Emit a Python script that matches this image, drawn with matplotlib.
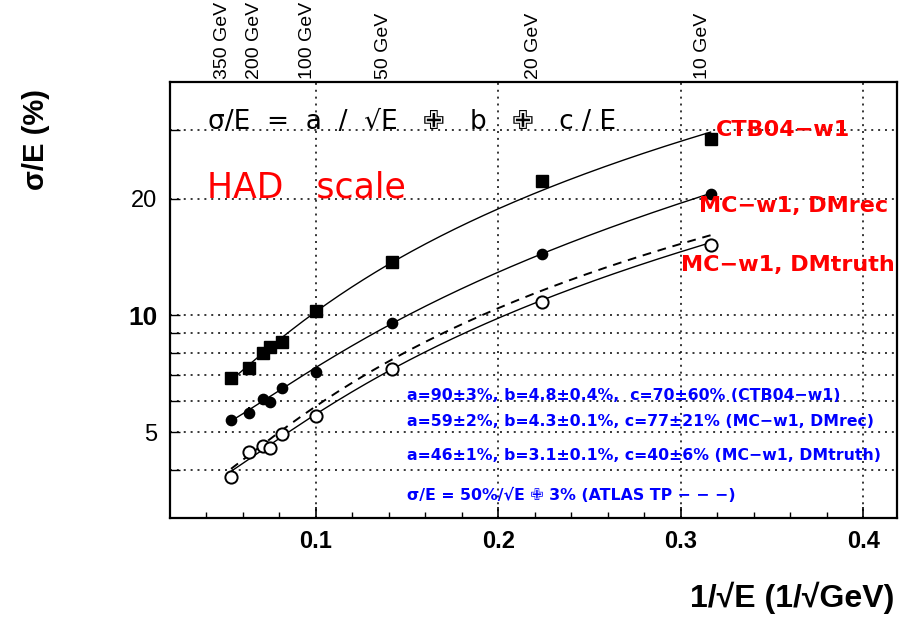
import numpy as np
import matplotlib
matplotlib.use('Agg')
import matplotlib.pyplot as plt

# beam energies (GeV) of the measured points
energies = [350, 250, 200, 180, 150, 100, 50, 20, 10]

# relative energy resolution sigma/E (%)
ctb_res     = [6.89, 7.31, 7.99, 8.30, 8.55, 10.28, 13.69, 22.2, 28.5]
ctb_err     = [0.05, 0.05, 0.05, 0.05, 0.05, 0.05, 0.1, 0.5, 0.8]
dmrec_res   = [5.38, 5.60, 6.09, 5.99, 6.51, 7.16, 9.57, 14.4, 20.6]
dmrec_err   = [0.0, 0.2, 0.0, 0.0, 0.0, 0.0, 0.0, 0.0, 0.0]
dmtruth_res = [3.83, 4.44, 4.59, 4.54, 4.95, 5.50, 7.29, 10.8, 15.2]

# fit parameters: sigma/E = a/sqrt(E) (+) b (+) c/E, in %
fit_names = ['CTB04-w1', 'DMrec', 'DMtruth', 'ATLAS TP']
fit_a = [90, 59, 46, 50]
fit_b = [4.8, 4.3, 3.1, 3.0]
fit_c = [70, 77, 40, 0]

top_energies = [350, 200, 100, 50, 20, 10]
y_grid = [4, 5, 6, 7, 8, 9, 10, 20, 30]
y_labels = {5: '5', 10: '10', 20: '20'}

BLUE = '#0000ff'
RED = '#ff0000'


def resolution(x, a, b, c):
    """Quadrature sum a*x (+) b (+) c*x^2 with x = 1/sqrt(E)."""
    return np.sqrt((a * x) ** 2 + b ** 2 + (c * x * x) ** 2)


def px(x, y):
    """Figure fraction from pixel position (origin top-left)."""
    return x / 900.0, 1.0 - y / 617.0


fig = plt.figure(figsize=(9.0, 6.17), dpi=100)
ax = fig.add_axes([170 / 900, 1 - 518 / 617, 727 / 900, 436 / 617])

ax.set_yscale('log')
ax.set_xlim(0.02, 0.4184)
ax.set_ylim(3.0, 40.0)

x_pts = 1.0 / np.sqrt(np.array(energies, dtype=float))

# fitted curves
x_fit = np.linspace(1 / np.sqrt(350), 1 / np.sqrt(10), 200)
for i, name in enumerate(fit_names):
    style = dict(color='black', lw=1.0)
    if name == 'ATLAS TP':
        style = dict(color='black', lw=1.4, ls=(0, (4.5, 3.5)))
    ax.plot(x_fit, resolution(x_fit, fit_a[i], fit_b[i], fit_c[i]), **style)

# measured points
ax.errorbar(x_pts, ctb_res, yerr=ctb_err, fmt='s', ms=8.6, color='black',
            mfc='black', mec='black', elinewidth=1.5, capsize=0, zorder=5)
ax.errorbar(x_pts, dmrec_res, yerr=dmrec_err, fmt='o', ms=7.4, color='black',
            mfc='black', mec='black', elinewidth=1.5, capsize=0, zorder=5)
ax.plot(x_pts, dmtruth_res, 'o', ms=8.8, mfc='white', mec='black', mew=1.4, zorder=5)

# axes styling
ax.set_xticks([0.1, 0.2, 0.3, 0.4])
ax.set_xticklabels(['0.1', '0.2', '0.3', '0.4'])
ax.set_xticks(np.arange(0.04, 0.42, 0.02), minor=True)
ax.set_yticks(y_grid)
ax.set_yticklabels([y_labels.get(v, '') for v in y_grid])
ax.yaxis.set_minor_locator(matplotlib.ticker.NullLocator())
ax.tick_params(axis='x', which='major', direction='in', length=8, width=1.2,
               pad=9, labelsize=17)
ax.tick_params(axis='x', which='minor', direction='in', length=4.5, width=1.0)
ax.tick_params(axis='y', which='major', direction='in', length=7, width=1.0,
               pad=9, labelsize=17)
for lab in ax.get_xticklabels():
    lab.set_fontfamily(['Liberation Sans', 'DejaVu Sans'])
    lab.set_fontweight('bold')
for lab in ax.get_yticklabels():
    lab.set_fontfamily(['Liberation Sans', 'DejaVu Sans'])
    if lab.get_text() == '10':
        lab.set_fontweight('bold')
        lab.set_fontsize(19)
for sp in ax.spines.values():
    sp.set_linewidth(1.6)

ax.grid(True, which='major', color='black', lw=1.1, ls=(0, (1.3, 3.2)))
ax.set_axisbelow(True)

# energy labels along the top edge
for e in top_energies:
    ax.text(1 / np.sqrt(e), 1.008, f'{e} GeV', transform=ax.get_xaxis_transform(),
            rotation=90, ha='right', va='bottom', fontsize=14,
            family=['Liberation Sans', 'DejaVu Sans'])

# axis titles
fig.text(*px(36, 140), 'σ/E (%)', rotation=90, ha='center', va='center',
         fontsize=21, fontweight='bold', family=['Liberation Sans', 'DejaVu Sans'])
fig.text(*px(894, 598), '1/√E (1/√GeV)', ha='right', va='center',
         fontsize=23, fontweight='bold', family=['Liberation Sans', 'DejaVu Sans'])

# formula and scale tag
fig.text(*px(208, 122), 'σ/E  =  a  /  √E   ✙   b   ✙   c / E', ha='left', va='center',
         fontsize=19, family='DejaVu Sans')
fig.text(*px(207, 188), 'HAD   scale', ha='left', va='center',
         fontsize=25, color=RED, family='DejaVu Sans')

# curve labels
for xpix, ypix, txt in [(716, 130, 'CTB04−w1'),
                        (699, 206, 'MC−w1, DMrec'),
                        (681, 265, 'MC−w1, DMtruth')]:
    fig.text(*px(xpix, ypix), txt, ha='left', va='center', fontsize=16,
             fontweight='bold', color=RED, family='DejaVu Sans')

# fit results
fit_lines = [
    (395, 'a=90±3%, b=4.8±0.4%,  c=70±60% (CTB04−w1)'),
    (422, 'a=59±2%, b=4.3±0.1%, c=77±21% (MC−w1, DMrec)'),
    (455, 'a=46±1%, b=3.1±0.1%, c=40±6% (MC−w1, DMtruth)'),
    (495, 'σ/E = 50%/√E ✙ 3% (ATLAS TP − − −)'),
]
for ypix, txt in fit_lines:
    fig.text(*px(407, ypix), txt, ha='left', va='center', fontsize=11.3,
             fontweight='bold', color=BLUE, family='DejaVu Sans')

fig.savefig('out.png', dpi=100)
